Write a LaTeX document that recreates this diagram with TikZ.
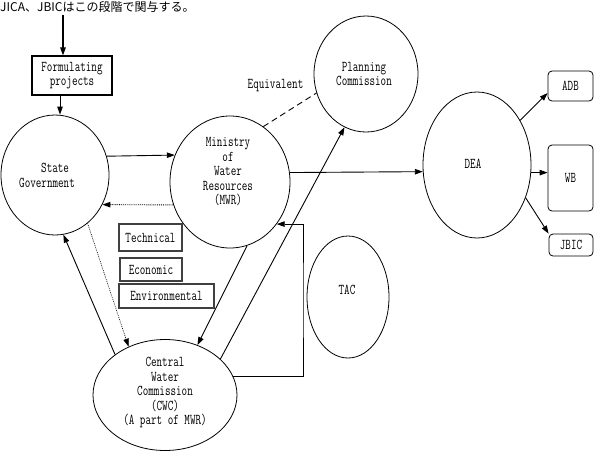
\documentclass[tikz,border=0pt]{standalone}
\usepackage{fontspec}
\setmainfont[FakeStretch=0.72]{Latin Modern Mono}
\newfontfamily\cjk{Noto Sans CJK JP}
\usetikzlibrary{shapes.geometric,arrows.meta}
\begin{document}
\begin{tikzpicture}[x=1pt,y=-1pt, font=\fontsize{15}{14.5}\selectfont,
  oval/.style={draw, ellipse, line width=0.8pt, inner sep=0pt},
  arr/.style={-{Triangle[length=8pt,width=5.5pt]}, line width=0.9pt},
  lbl/.style={align=center, inner sep=0pt},
  sqbox/.style={draw, line width=1.1pt, inner sep=0pt, align=center},
  rbox/.style={draw, rounded corners=4pt, line width=0.8pt, inner sep=0pt},
  crit/.style={draw=black!75, line width=1.4pt, inner sep=0pt}]
\useasboundingbox (0,0) rectangle (594,451);

% ellipses
\node[oval, minimum width=108pt, minimum height=120pt] (sg) at (55,175) {};
\node[oval, minimum width=120pt, minimum height=132pt] (mwr) at (230,182) {};
\node[oval, minimum width=104pt, minimum height=116pt] (pc) at (366,74) {};
\node[oval, minimum width=108pt, minimum height=146pt] (dea) at (477,165) {};
\node[oval, minimum width=82pt, minimum height=122pt] (tac) at (348,297) {};
\node[oval, minimum width=144pt, minimum height=111pt] (cwc) at (165,395) {};

% ellipse texts
\node[lbl, anchor=west, align=left] (sgt) at (19,175.5) {\hspace*{22pt}State\\Government};
\node[lbl] (mwrt) at (228,172) {Ministry\\of\\Water\\Resources\\(MWR)};
\node[lbl] (pct) at (364,74) {Planning\\Commission};
\node[lbl] (deat) at (473,164) {DEA};
\node[lbl] (tact) at (347,290) {TAC};
\node[lbl] (cwct) at (165,392.5) {Central\\Water\\Commission\\(CWC)\\(A part of MWR)};
\node[lbl] (eqt) at (275.5,86) {Equivalent};

% boxes
\node[anchor=west, inner sep=0pt, font=\fontsize{12}{12}\cjk] (jp) at (0,7) {JICA、JBICはこの段階で関与する。};
\node[sqbox, minimum width=80pt, minimum height=39pt] (form) at (72,75.5) {Formulating\\projects};
\node[crit, minimum width=63pt, minimum height=27pt] (tech) at (150.5,237.5) {Technical};
\node[crit, minimum width=62pt, minimum height=23pt] (econ) at (151,269.5) {Economic};
\node[crit, minimum width=95pt, minimum height=24pt] (env) at (166.5,296) {Environmental};
\node[rbox, minimum width=45pt, minimum height=30pt] (adb) at (570.5,86) {ADB};
\node[rbox, minimum width=45pt, minimum height=66pt] (wb) at (570.5,178) {WB};
\node[rbox, minimum width=44pt, minimum height=22pt] (jbic) at (571,245) {JBIC};

% connectors
\coordinate (jpa) at (63,15);
\draw[arr, line width=1.3pt] (jpa) -- (jpa |- form.north);
\draw[arr] ([xshift=-12pt]form.south) -- ([xshift=-12pt]form.south |- sg.north);
\draw[arr] (sg.20.4) -- (mwr.154.7);
\draw[arr, densely dotted] (mwr.202.3) -- (sg.-32.7);
\draw[arr] (mwr.9.6) -- (dea.187.4);
\draw[dash pattern=on 6pt off 4pt, line width=0.9pt] (mwr.59.2) -- (pc.201.2);
\draw[arr] (dea.46.9) -- ([yshift=-7pt]adb.west);
\draw[arr] (dea.-8.5) -- (dea.-8.5 -| wb.west);
\draw[arr] (dea.-34) -- (jbic.north west);
\draw[arr, densely dotted, line width=0.6pt] (sg.-56.8) -- (cwc.127.2);
\draw[arr] (cwc.141.7) -- (sg.-82.6);
\draw[arr] (mwr.-75.3) -- (cwc.57.6);
\draw[arr] (cwc.33.7) -- (pc.248.4);
\coordinate (elb) at (303,300);
\draw[arr] (cwc.15.7) -| (elb) |- (mwr.-42.2);
\end{tikzpicture}
\end{document}
